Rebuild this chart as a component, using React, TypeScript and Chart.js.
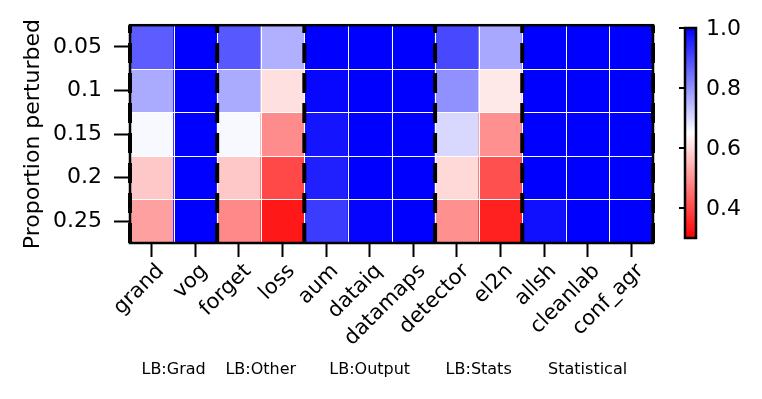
import React, { useEffect, useRef } from "react";
import { Chart, registerables } from "chart.js";

Chart.register(...registerables);

const methods = ["grand", "vog", "forget", "loss", "aum", "dataiq", "datamaps", "detector", "el2n", "allsh", "cleanlab", "conf_agr"];
const rowLabels = ["0.05", "0.1", "0.15", "0.2", "0.25"];

const row005 = [0.874, 1.0, 0.879, 0.758, 1.0, 1.0, 1.0, 0.901, 0.77, 1.0, 1.0, 1.0];
const row010 = [0.767, 1.0, 0.767, 0.607, 0.99, 1.0, 1.0, 0.802, 0.618, 1.0, 1.0, 1.0];
const row015 = [0.66, 1.0, 0.66, 0.492, 0.973, 1.0, 1.0, 0.703, 0.498, 1.0, 1.0, 1.0];
const row020 = [0.575, 1.0, 0.575, 0.399, 0.956, 1.0, 1.0, 0.597, 0.41, 1.0, 1.0, 1.0];
const row025 = [0.52, 1.0, 0.487, 0.333, 0.918, 0.995, 1.0, 0.498, 0.344, 0.978, 1.0, 1.0];
const rows = [row005, row010, row015, row020, row025];

const groupNames = ["LB:Grad", "LB:Other", "LB:Output", "LB:Stats", "Statistical"];
const groupStarts = [0, 2, 4, 7, 9];
const groupEnds = [2, 4, 7, 9, 12];
const cbTicks = [0.4, 0.6, 0.8, 1.0];
const vmin = 0.3;
const vmax = 1.0;

function bwrR(v: number): string {
  let t = (v - vmin) / (vmax - vmin);
  t = Math.max(0, Math.min(1, t));
  const s = 1 - t;
  let r: number, g: number, b: number;
  if (s < 0.5) {
    r = g = Math.round(s * 2 * 255);
    b = 255;
  } else {
    r = 255;
    g = b = Math.round((1 - s) * 2 * 255);
  }
  return `rgb(${r},${g},${b})`;
}

const FONT = "'DejaVu Sans', sans-serif";

const decorPlugin = {
  id: "heatDecor",
  afterDatasetsDraw(chart: any) {
    const { ctx, chartArea: a, scales } = chart;
    const x = scales.x;
    const y = scales.y;
    ctx.save();
    // white cell separators
    ctx.strokeStyle = "#ffffff";
    ctx.lineWidth = 1;
    ctx.beginPath();
    for (let c = 1; c < methods.length; c++) {
      const px = Math.round(x.getPixelForValue(c - 0.5)) + 0.5;
      ctx.moveTo(px, a.top);
      ctx.lineTo(px, a.bottom);
    }
    for (let r = 1; r < rowLabels.length; r++) {
      const py = Math.round(y.getPixelForValue(r)) + 0.5;
      ctx.moveTo(a.left, py);
      ctx.lineTo(a.right, py);
    }
    ctx.stroke();
    // frame
    ctx.strokeStyle = "#000";
    ctx.lineWidth = 2.5;
    ctx.strokeRect(a.left, a.top, a.right - a.left, a.bottom - a.top);
    // dashed group separators
    ctx.lineWidth = 4;
    ctx.setLineDash([20, 10]);
    const bounds = [0, ...groupEnds];
    for (const b of bounds) {
      const px = x.getPixelForValue(b - 0.5);
      ctx.beginPath();
      ctx.moveTo(px, a.bottom);
      ctx.lineTo(px, a.top);
      ctx.stroke();
    }
    ctx.setLineDash([]);
    // group labels
    ctx.fillStyle = "#000";
    ctx.font = `16px ${FONT}`;
    ctx.textAlign = "center";
    ctx.textBaseline = "middle";
    groupNames.forEach((name, i) => {
      const cx = (x.getPixelForValue(groupStarts[i] - 0.5) + x.getPixelForValue(groupEnds[i] - 0.5)) / 2;
      ctx.fillText(name, cx, 370);
    });
    // colorbar
    const cbL = 685;
    const cbW = 11;
    const cbTop = 28;
    const cbBot = 238;
    const grad = ctx.createLinearGradient(0, cbTop, 0, cbBot);
    grad.addColorStop(0, bwrR(vmax));
    grad.addColorStop(0.5, bwrR((vmin + vmax) / 2));
    grad.addColorStop(1, bwrR(vmin));
    ctx.fillStyle = grad;
    ctx.fillRect(cbL, cbTop, cbW, cbBot - cbTop);
    ctx.strokeStyle = "#000";
    ctx.lineWidth = 2.5;
    ctx.strokeRect(cbL, cbTop, cbW, cbBot - cbTop);
    ctx.lineWidth = 2;
    ctx.fillStyle = "#000";
    ctx.font = `22px ${FONT}`;
    ctx.textAlign = "left";
    ctx.textBaseline = "middle";
    for (const tv of cbTicks) {
      const py = cbBot - ((tv - vmin) / (vmax - vmin)) * (cbBot - cbTop);
      ctx.beginPath();
      ctx.moveTo(cbL - 6, py);
      ctx.lineTo(cbL, py);
      ctx.stroke();
      ctx.fillText(tv.toFixed(1), 706, py + 1);
    }
    ctx.restore();
  },
};

export default function App() {
  const ref = useRef<HTMLCanvasElement | null>(null);
  useEffect(() => {
    if (!ref.current) return;
    const datasets = rows.map((vals, r) => ({
      label: rowLabels[r],
      data: vals.map(() => [r, r + 1]),
      backgroundColor: vals.map((v) => bwrR(v)),
      borderWidth: 0,
      categoryPercentage: 1,
      barPercentage: 1,
      grouped: false,
    }));
    const chart = new Chart(ref.current, {
      type: "bar",
      data: { labels: methods, datasets: datasets as any },
      plugins: [decorPlugin],
      options: {
        animation: false,
        responsive: false,
        devicePixelRatio: 1,
        layout: { padding: { top: 24, right: 109, left: 0, bottom: 0 } },
        plugins: { legend: { display: false }, tooltip: { enabled: false } },
        scales: {
          x: {
            type: "category",
            offset: true,
            grid: { offset: false, drawOnChartArea: false, drawTicks: true, tickLength: 14, tickWidth: 2, tickColor: "#000" },
            border: { display: false },
            ticks: {
              color: "#000",
              font: { family: FONT, size: 21 },
              minRotation: 45,
              maxRotation: 45,
              autoSkip: false,
              padding: 2,
              labelOffset: 9,
            },
            afterFit: (s: any) => {
              s.height = 156;
            },
          },
          y: {
            type: "linear",
            min: 0,
            max: 5,
            reverse: true,
            grid: { drawOnChartArea: false, drawTicks: true, tickLength: 16, tickWidth: 2, tickColor: "#000" },
            border: { display: false },
            afterBuildTicks: (s: any) => {
              s.ticks = rowLabels.map((_, i) => ({ value: i + 0.5 }));
            },
            ticks: {
              color: "#000",
              font: { family: FONT, size: 22 },
              padding: 12,
              callback: (_v: any, i: number) => rowLabels[i],
            },
            title: {
              display: true,
              text: "Proportion perturbed",
              color: "#000",
              font: { family: FONT, size: 22 },
              padding: { top: 20, bottom: 0 },
            },
            afterFit: (s: any) => {
              s.width = 130;
            },
          },
        },
      },
    });
    return () => chart.destroy();
  }, []);
  return (
    <div style={{ position: "absolute", left: 0, top: 0, width: 762, height: 399, background: "#fff" }}>
      <canvas ref={ref} width={762} height={399} style={{ width: 762, height: 399, display: "block" }} />
    </div>
  );
}
